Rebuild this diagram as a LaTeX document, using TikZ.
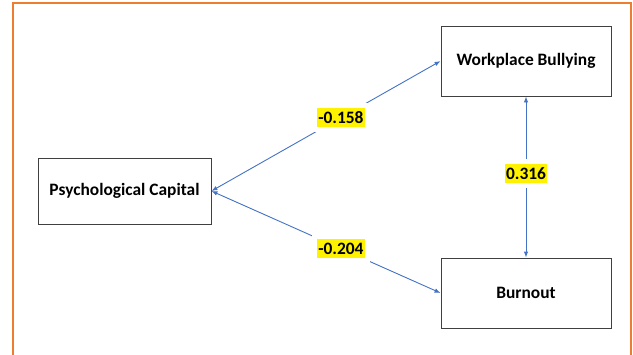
\documentclass[tikz,border=0pt]{standalone}
\usepackage{fontspec}
\setmainfont{Carlito}
\usetikzlibrary{arrows.meta}
\definecolor{frameorange}{HTML}{ED7D31}
\definecolor{arrowblue}{HTML}{4472C4}
\tikzset{
  box/.style={draw=black!75, line width=0.9bp, fill=white, minimum width=170bp, minimum height=70bp, inner sep=0pt, font=\fontsize{17.4bp}{20bp}\selectfont\bfseries},
  arr/.style={draw=arrowblue, line width=0.9bp, {Latex[length=6bp,width=4.5bp]}-{Latex[length=6bp,width=4.5bp]}},
  lab/.style={fill=yellow, inner xsep=1bp, inner ysep=3.5bp, text=black, font=\fontsize{17.4bp}{20bp}\selectfont\bfseries, preaction={draw=white, line width=10bp}}
}
\begin{document}
\begin{tikzpicture}[x=1bp,y=-1bp]
\useasboundingbox (0,0) rectangle (633,354);
\draw[frameorange, line width=2bp] (12.5,400) -- (12.5,3) -- (631,3) -- (631,400);
\node[box, minimum width=173bp, minimum height=66bp] (pc) at (124.5,191) {Psychological Capital};
\node[box] (wb) at (526,61) {Workplace Bullying};
\node[box] (bu) at (526,293) {Burnout};
\draw[arr] (pc.east) -- node[lab, pos=0.565] (l1) {-0.158} (wb.west);
\draw[arr] (pc.east) -- node[lab, pos=0.565] (l2) {-0.204} (bu.west);
\draw[arr] (wb.south) -- node[lab, pos=0.48] (l3) {0.316} (bu.north);
\end{tikzpicture}
\end{document}
